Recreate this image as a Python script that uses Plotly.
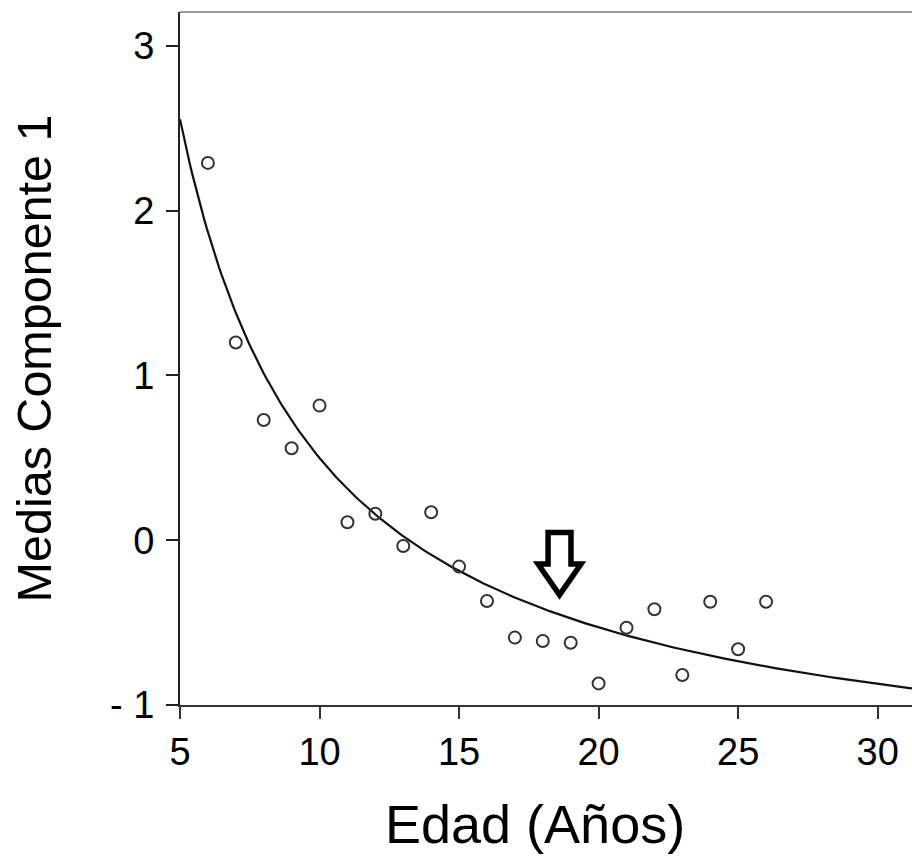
import numpy as np
import plotly.graph_objects as go

# Data
edad = [6, 7, 8, 9, 10, 11, 12, 13, 14, 15, 16, 17, 18, 19, 20, 21, 22, 23, 24, 25, 26]
medias = [2.29, 1.20, 0.73, 0.558, 0.817, 0.109, 0.161, -0.035, 0.170, -0.16, -0.369,
          -0.591, -0.612, -0.622, -0.869, -0.531, -0.419, -0.818, -0.373, -0.662, -0.373]

x_tickvals = [5, 10, 15, 20, 25, 30]
y_tickvals = [-1, 0, 1, 2, 3]
y_ticktext = ["- 1", "0", "1", "2", "3"]

x_range = [5, 31.23]
y_range = [-1, 3.206]

# Inverse model fit  y = b0 + b1 / x  (least squares on the data)
b1, b0 = np.polyfit(1.0 / np.array(edad), np.array(medias), 1)
x_fit = np.linspace(x_range[0], x_range[1], 300)
y_fit = b0 + b1 / x_fit

# Arrow annotation location (data units)
arrow_x = 18.6
arrow_top = 0.047
arrow_head = -0.144
arrow_tip = -0.332
shaft_half = 0.41
head_half = 0.77

FONT = "Liberation Sans, Arial, sans-serif"

fig = go.Figure()
fig.add_trace(go.Scatter(x=x_fit, y=y_fit, mode="lines",
                         line=dict(color="#111111", width=2.2), hoverinfo="skip",
                         showlegend=False))
fig.add_trace(go.Scatter(x=edad, y=medias, mode="markers",
                         marker=dict(symbol="circle-open", size=12, color="#333333",
                                     line=dict(width=2, color="#333333")),
                         showlegend=False))

path = (f"M {arrow_x - shaft_half} {arrow_top} L {arrow_x + shaft_half} {arrow_top} "
        f"L {arrow_x + shaft_half} {arrow_head} L {arrow_x + head_half} {arrow_head} "
        f"L {arrow_x} {arrow_tip} L {arrow_x - head_half} {arrow_head} "
        f"L {arrow_x - shaft_half} {arrow_head} Z")
fig.add_shape(type="path", path=path, xref="x", yref="y",
              line=dict(color="black", width=5.5), fillcolor="white", layer="above")

# top frame line (gray)
fig.add_shape(type="line", xref="paper", yref="paper", x0=0, x1=1, y0=1, y1=1,
              line=dict(color="#999999", width=2))

fig.update_layout(
    width=912, height=862,
    margin=dict(l=180, r=0, t=12, b=157),
    paper_bgcolor="white", plot_bgcolor="white",
    font=dict(family=FONT, color="black"),
    xaxis=dict(range=x_range, tickvals=x_tickvals, ticks="outside", ticklen=12,
               tickwidth=2, tickcolor="#333333", showline=True, linecolor="#333333",
               linewidth=2, showgrid=False, zeroline=False, ticklabelstandoff=0,
               tickfont=dict(size=38, family=FONT, color="black")),
    yaxis=dict(range=y_range, tickvals=y_tickvals, ticktext=y_ticktext, ticks="outside",
               ticklen=12, tickwidth=2, tickcolor="#222222", showline=True,
               linecolor="#222222", linewidth=2, showgrid=False, zeroline=False,
               ticklabelstandoff=4,
               tickfont=dict(size=38, family=FONT, color="black")),
    annotations=[
        dict(text="Edad (Años)", xref="paper", yref="paper", x=0.485, y=-0.172,
             xanchor="center", yanchor="middle", showarrow=False,
             font=dict(size=54, family=FONT, color="black")),
        dict(text="Medias Componente 1", xref="paper", yref="paper", x=-0.1995, y=0.5,
             xanchor="center", yanchor="middle", textangle=-90, showarrow=False,
             font=dict(size=48.5, family=FONT, color="black")),
    ],
)

fig.write_html("out.html")
